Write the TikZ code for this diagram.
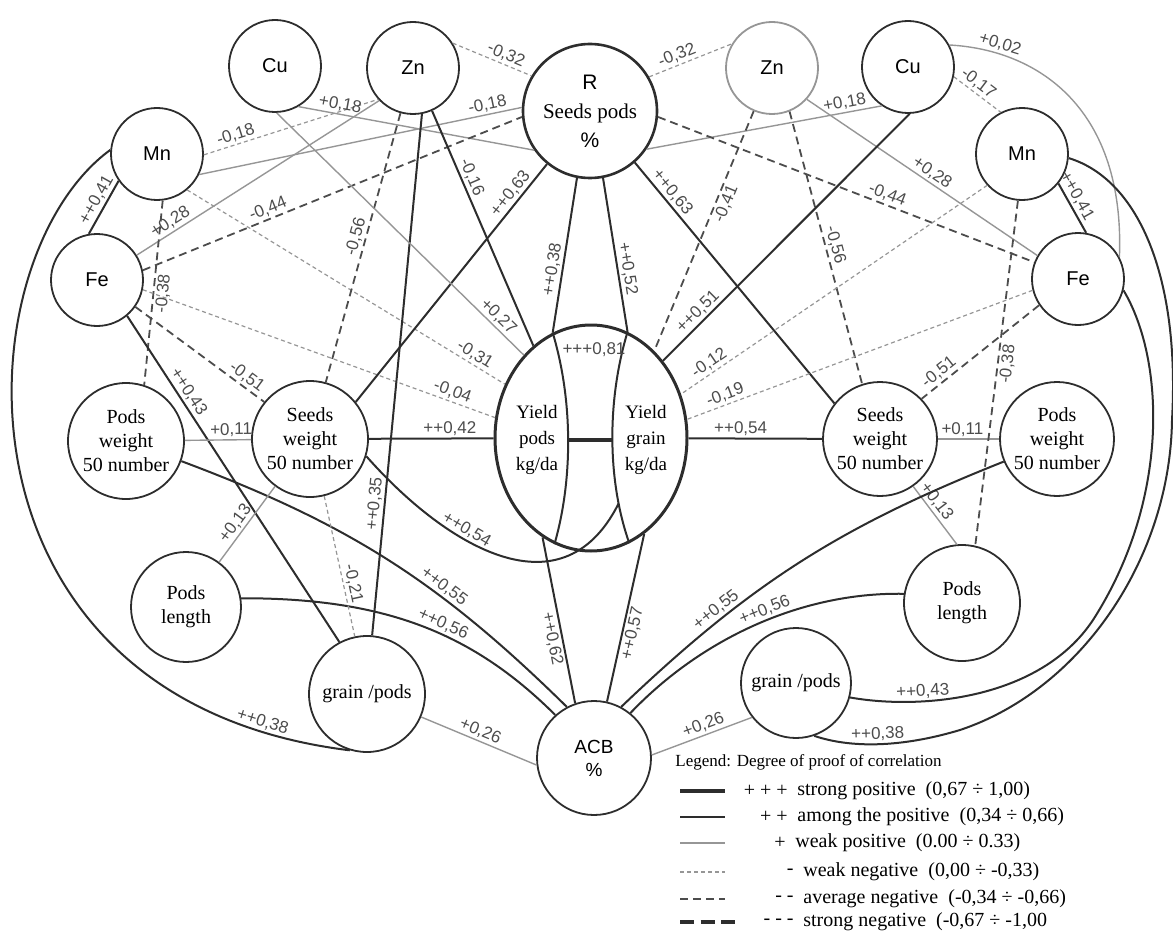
\documentclass[tikz,border=0pt]{standalone}
\usepackage{fontspec}
\setmainfont{Liberation Serif}
\setsansfont{Liberation Sans}
\usetikzlibrary{shapes.geometric}
\definecolor{ink}{RGB}{45,45,45}
\definecolor{ash}{RGB}{150,150,150}
\tikzset{
  elem/.style={circle,draw=ink,line width=0.9pt,minimum size=#1,inner sep=0pt,
    font=\sffamily\fontsize{10}{12}\selectfont,align=center},
  elem/.default=46pt,
  trait/.style={circle,draw=ink,line width=0.9pt,minimum size=#1,inner sep=0pt,
    font=\fontsize{10}{12}\selectfont,align=center},
  trait/.default=58pt,
  plus3/.style={draw=ink,line width=1.6pt},
  plus2/.style={draw=ink,line width=1pt},
  plus1/.style={draw=ash,line width=0.7pt},
  minus1/.style={draw=ash,line width=0.6pt,dash pattern=on 2pt off 1.5pt},
  minus2/.style={draw=ink!85,line width=0.9pt,dash pattern=on 4pt off 2.5pt},
  minus3/.style={draw=ink,line width=1.6pt,dash pattern=on 7pt off 3.25pt},
  lbl/.style={font=\sffamily\fontsize{8.5}{10}\selectfont,text=ink!85,sloped,inner sep=1pt},
  legtext/.style={font=\fontsize{10}{12}\selectfont,anchor=west,inner sep=0pt},
}
\begin{document}
\begin{tikzpicture}[x=0.5pt,y=-0.5pt]
\useasboundingbox (0,0) rectangle (1173,931);
% trace elements
\node[elem] (CuL) at (275,66) {Cu};
\node[elem] (ZnL) at (413,68) {Zn};
\node[elem] (MnL) at (157,154) {Mn};
\node[elem] (FeL) at (97,280) {Fe};
\node[elem,draw=ash] (ZnR) at (772,68) {Zn};
\node[elem] (CuR) at (908,67) {Cu};
\node[elem] (MnR) at (1022,154) {Mn};
\node[elem] (FeR) at (1078,279) {Fe};
% traits
\node[trait=67pt,line width=1.3pt,font=\fontsize{10.5}{14.5}\selectfont] (R) at (590,111) {{\sffamily R}\\Seeds pods\\{\sffamily\%}};
\node[trait] (PWL) at (126,441) {Pods\\weight\\50 number};
\node[trait] (SWL) at (310,439) {Seeds\\weight\\50 number};
\node[trait=57pt] (SWR) at (880,439) {Seeds\\weight\\50 number};
\node[trait=57pt] (PWR) at (1057,439) {Pods\\weight\\50 number};
\node[trait=55pt] (PLL) at (186,607) {Pods\\length};
\node[trait] (PLR) at (962,603) {Pods\\length};
\node[trait] (GPL) at (367,694) {grain /pods};
\node[trait=55pt] (GPR) at (796,683) {grain /pods};
\node[elem=57pt,font=\sffamily\fontsize{9.5}{11.5}\selectfont] (ACB) at (594,758) {ACB\\\%};
% yield
\node[ellipse,draw=ink,line width=1.5pt,minimum width=96pt,minimum height=113pt,inner sep=0pt] (Y) at (591,438) {};
\node[align=center,font=\fontsize{9.5}{13}\selectfont,minimum width=31pt,inner sep=0pt] (YP) at (537,440) {Yield\\pods\\kg/da};
\node[align=center,font=\fontsize{9.5}{13}\selectfont,minimum width=34pt,inner sep=0pt] (YG) at (646,440) {Yield\\grain\\kg/da};
\draw[plus2] (Y.110) .. controls (573,400) and (573,480) .. (Y.251);
\draw[plus2] (Y.71) .. controls (607,400) and (607,480) .. coordinate[pos=.8] (ygl) (Y.290);
\draw[plus3] (YP.east) -- (YG.west);
\node[font=\sffamily\fontsize{8.5}{10}\selectfont,text=ink!85] (v081) at (594,350) {+++0,81};

% left half
\draw[plus2] (MnL.215) -- node[lbl,pos=.45,above]{++0,41} (FeL.100);
\draw[plus2] (MnL.175) .. controls (-40,260) and (-60,700) .. node[lbl,pos=.92,above]{++0,38} (GPL.253);
\draw[minus1] (MnL.-1) -- node[lbl,pos=.2,above]{-0,18} (ZnL.222);
\draw[plus1] (MnL.334) -- node[lbl,pos=.9,above]{-0,18} (R.177);
\draw[plus1] (CuL.300) -- node[lbl,pos=.17,above]{+0,18} (R.215);
\draw[minus1] (ZnL.32) -- node[lbl,pos=.63,above]{-0,32} (R.149);
\draw[plus1] (FeL.32) -- node[lbl,pos=.16,above]{+0,28} (ZnL.224);
\draw[minus2] (FeL.12) -- node[lbl,pos=.34,above]{-0,44} (R.185);
\draw[minus2] (MnL.277) -- node[lbl,pos=.5,below]{-0,38} (PWL.72);
\draw[minus1] (MnL.310) -- node[lbl,pos=.89,above]{-0,31} (Y.148);
\draw[minus1] (FeL.348) -- node[lbl,pos=.87,above]{-0,04} (Y.168);
\draw[minus2] (FeL.325) -- node[lbl,pos=.82,above]{-0,51} (SWL.141);
\draw[plus2] (FeL.310) -- node[lbl,pos=.25,above]{++0,43} (GPL.118);
\draw[minus2] (ZnL) -- node[lbl,pos=.47,above]{-0,56} (SWL);
\draw[plus2] (ZnL.281) -- node[lbl,pos=.75,above]{++0,35} (GPL.85);
\draw[plus2] (ZnL.294) -- node[lbl,pos=.3,above]{-0,16} (Y.122);
\draw[plus2] (R.231) -- node[lbl,pos=.15,above]{++0,63} (SWL.39);
\draw[plus1] (CuL.272) -- node[lbl,pos=.87,above]{+0,27} (Y.129);
\draw[plus2] (R.259) -- node[lbl,pos=.6,above]{++0,38} (Y.110);
\draw[plus2] (R.281) -- node[lbl,pos=.6,above]{++0,52} (Y.71);
\draw[plus2] (SWL) -- node[lbl,pos=.65,above]{++0,42} (Y);
\draw[plus1] (PWL) -- node[lbl,pos=.7,above]{+0,11} (SWL);
\draw[plus2] (SWL.343) .. controls (440,540) and (560,620) .. node[lbl,pos=.37,above]{++0,54} (ygl);
\draw[plus2] (PWL.340) to[bend left=12] node[lbl,pos=.64,above]{++0,55} (ACB.118);
\draw[plus2] (PLL.9) .. controls (380,598) and (470,630) .. node[lbl,pos=.57,above]{++0,56} (ACB.132);
\draw[plus1] (SWL) -- node[lbl,pos=.57,above]{+0,13} (PLL);
\draw[minus1] (SWL.284) -- node[lbl,pos=.64,above]{-0,21} (GPL.102);
\draw[plus1] (GPL.337) -- node[lbl,pos=.48,above]{+0,26} (ACB.187);
\draw[plus2] (Y.244) -- node[lbl,pos=.6,below]{++0,62} (ACB.109);
\draw[plus2] (Y.299) -- node[lbl,pos=.58,below]{++0,57} (ACB.77);

% right half
\draw[minus1] (R.30) -- node[lbl,pos=.38,above]{-0,32} (ZnR.149);
\draw[plus1] (R.326) -- node[lbl,pos=.85,above]{+0,18} (CuR.236);
\draw[minus2] (R.355) -- node[lbl,pos=.6,above]{-0,44} (FeR.159);
\draw[plus2] (R.311) -- node[lbl,pos=.15,above]{++0,63} (SWR.142);
\draw[minus2] (ZnR.247) -- node[lbl,pos=.37,below]{-0,41} (Y.54);
\draw[minus2] (ZnR.292) -- node[lbl,pos=.5,above]{-0,56} (SWR.108);
\draw[plus1] (ZnR.318) -- node[lbl,pos=.52,above]{+0,28} (FeR.150);
\draw[plus2] (CuR.272) -- node[lbl,pos=.83,above]{++0,51} (Y.47);
\draw[minus1] (MnR.222) -- node[lbl,pos=.89,above]{-0,12} (Y.26);
\draw[minus1] (FeR.194) -- node[lbl,pos=.88,above]{-0,19} (Y.11);
\draw[plus2] (Y) -- node[lbl,pos=.39,above]{++0,54} (SWR);
\draw[plus1] (SWR) -- node[lbl,pos=.4,above]{+0,11} (PWR);
\draw[minus2] (FeR.214) -- node[lbl,pos=.8,above]{-0,51} (SWR.44);
\draw[minus2] (MnR.265) -- node[lbl,pos=.47,below]{-0,38} (PLR.77);
\draw[plus2] (MnR.321) -- node[lbl,pos=.35,above]{++0,41} (FeR.80);
\draw[minus1] (CuR.348) -- node[lbl,pos=.4,above]{-0,17} (MnR.117);
\draw[plus1] (CuR.28) .. controls (1040,50) and (1125,110) .. node[lbl,pos=.18,above]{+0,02} (FeR.28);
\draw[plus2] (MnR.355) .. controls (1140,180) and (1180,280) .. (1172,420)
  .. controls (1170,560) and (1080,690) .. (960,730)
  .. controls (900,748) and (850,748) .. node[lbl,pos=.5,above]{++0,38} (GPR.289);
\draw[plus2] (FeR.346) .. controls (1165,360) and (1170,500) .. (1093,620)
  .. controls (1040,700) and (920,710) .. node[lbl,pos=.7,above]{++0,43} (GPR.345);
\draw[plus1] (SWR.305) -- node[lbl,pos=.36,above]{+0,13} (PLR.95);
\draw[plus2] (PWR.203) to[bend right=11] node[lbl,pos=.72,above]{++0,55} (ACB.62);
\draw[plus2] (PLR.171) .. controls (800,592) and (700,640) .. node[lbl,pos=.45,above]{++0,56} (ACB.51);
\draw[plus1] (GPR.218) -- node[lbl,pos=.45,above]{+0,26} (ACB.3);

% legend
\node[legtext,font=\fontsize{8.5}{10}\selectfont] (legT) at (675,762) {Legend: Degree of proof of correlation};
\foreach \yy/\sty/\xe/\sym/\xs/\txt [count=\i] in {
  791/plus3/725/{+ + +}/797/{strong positive\enspace(0,67 ÷ 1,00)},
  817/plus2/725/{+ +}/797/{among the positive\enspace(0,34 ÷ 0,66)},
  843/plus1/725/{+}/795/{weak positive\enspace(0.00 ÷ 0.33)},
  872/minus1/725/{-}/803/{weak negative\enspace(0,00 ÷ -0,33)},
  899/minus2/725/{- -}/803/{average negative\enspace(-0,34 ÷ -0,66)},
  922/minus3/735/{- - -}/803/{strong negative\enspace(-0,67 ÷ -1,00}}{
  \draw[\sty] (680,\yy) -- (\xe,\yy);
  \node[legtext,anchor=east] (sym\i) at (\xs-9,\yy) {\sym};
  \node[legtext] (leg\i) at (\xs,\yy) {\txt};
}
\end{tikzpicture}
\end{document}
